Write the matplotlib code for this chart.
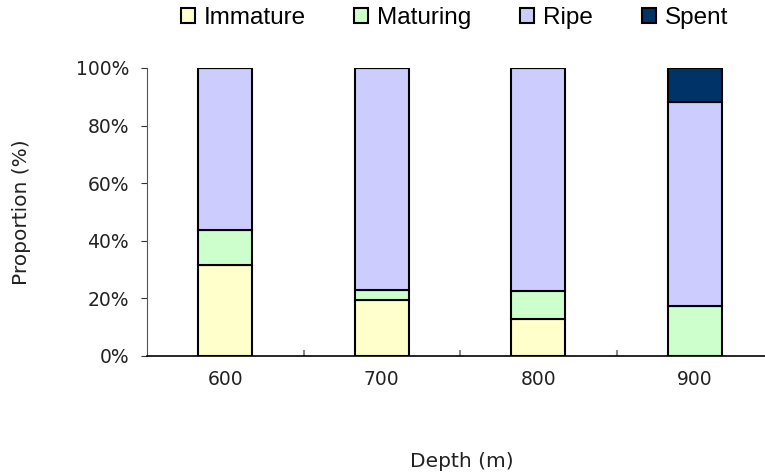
import numpy as np
import matplotlib
matplotlib.use("Agg")
import matplotlib.pyplot as plt
from matplotlib.ticker import FuncFormatter

# data (percent of each stage per depth)
depths = ["600", "700", "800", "900"]
stages = ["Immature", "Maturing", "Ripe", "Spent"]
immature = [31.6, 19.4, 12.8, 0.0]
maturing = [12.2, 3.6, 9.8, 17.5]
ripe = [56.2, 77.0, 77.4, 70.8]
spent = [0.0, 0.0, 0.0, 11.7]
colors = ["#FFFFCC", "#CCFFCC", "#CCCCFF", "#003366"]

fig = plt.figure(figsize=(7.65, 4.73), dpi=100)
ax = fig.add_axes([0.1922, 0.2474, 0.8183, 0.6089])

x = np.arange(len(depths))
bottom = np.zeros(len(depths))
for name, vals, col in zip(stages, [immature, maturing, ripe, spent], colors):
    vals = np.array(vals)
    ax.bar(x, vals, 0.345, bottom=bottom, color=col, edgecolor="black",
           linewidth=1.5, label=name, zorder=3)
    bottom += vals

ax.set_xlim(-0.5, 3.5)
ax.set_ylim(0, 100)
ax.set_yticks(np.arange(0, 101, 20))
ax.yaxis.set_major_formatter(FuncFormatter(lambda v, p: f"{int(v)}%"))
ax.set_xticks(x)
ax.set_xticklabels(depths)
ax.set_xticks([0.5, 1.5, 2.5], minor=True)

for s in ["top", "right"]:
    ax.spines[s].set_visible(False)
ax.spines["left"].set_color("#555555")
ax.spines["bottom"].set_color("black")
ax.spines["bottom"].set_linewidth(1.2)

ax.tick_params(axis="y", direction="out", length=4, color="#333333",
               labelsize=13.5, pad=9, labelcolor="#222222")
ax.tick_params(axis="x", which="major", length=0, labelsize=13.5, pad=10,
               labelcolor="#222222")
ax.tick_params(axis="x", which="minor", direction="in", length=4,
               color="#888888", width=1.5)

fig.text(0.0275, 0.552, "Proportion (%)", rotation=90, ha="center",
         va="center", fontsize=14.5, color="#222222")
fig.text(0.604, 0.025, "Depth (m)", ha="center", va="center",
         fontsize=14.5, color="#222222")

leg = fig.legend(loc="center", bbox_to_anchor=(0.594, 0.962), ncol=4,
                 frameon=False, handlelength=0.58, handleheight=0.58,
                 handletextpad=0.37, columnspacing=2.0,
                 prop={"family": "Liberation Sans", "size": 17.5})

fig.savefig("out.png", dpi=100)
